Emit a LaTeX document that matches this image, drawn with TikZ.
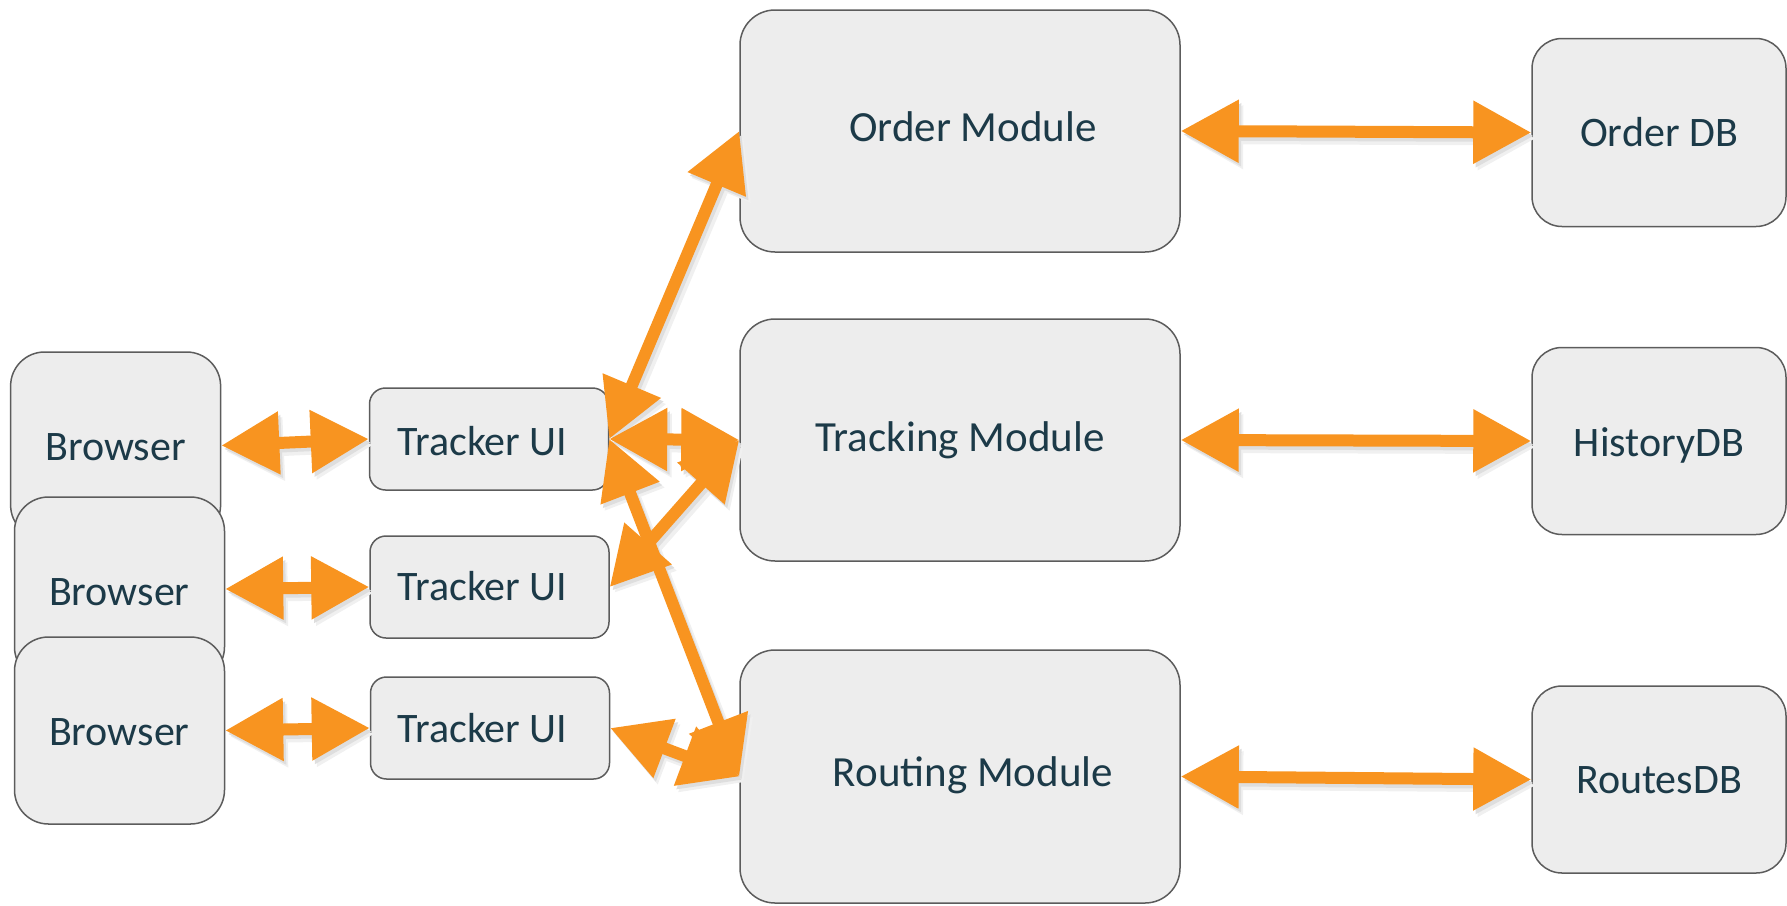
\documentclass[tikz,border=0pt]{standalone}
\usepackage{fontspec}
\setmainfont{Carlito}
\usetikzlibrary{arrows.meta}
\definecolor{boxfill}{RGB}{237,237,237}
\definecolor{boxline}{RGB}{92,92,92}
\definecolor{flow}{RGB}{248,148,32}
\definecolor{ink}{RGB}{28,58,72}
\begin{document}
\begin{tikzpicture}[x=1pt,y=-1pt,
  box/.style={draw=boxline, fill=boxfill, line width=1.5pt, inner sep=0pt},
  client/.style={box, rounded corners=34pt, minimum width=210pt, minimum height=187pt},
  ui/.style={box, rounded corners=16pt, minimum width=239pt, minimum height=102pt},
  module/.style={box, rounded corners=35pt, minimum width=440pt},
  store/.style={box, rounded corners=30pt, minimum width=254pt, minimum height=188pt},
  lbl/.style={anchor=base, inner sep=0pt, text=ink, font=\fontsize{42pt}{50pt}\selectfont},
  biglbl/.style={lbl, font=\fontsize{43pt}{50pt}\selectfont},
  tips/.style={{Triangle[length=58pt,width=60pt]}-{Triangle[length=58pt,width=60pt]}},
  link/.style={tips, draw=flow, line width=12pt},
  linkshadow/.style={tips, draw=black!13, line width=12pt,
    transform canvas={shift={(2.5pt,-3.5pt)}}},
  linkhaze/.style={tips, draw=black!6, line width=14pt,
    transform canvas={shift={(4.5pt,-6pt)}}},
]
\useasboundingbox (0,0) rectangle (1787,905);

% clients
\node[client] (b1) at (115.6,445.5) {};
\node[client, minimum height=184pt] (b2) at (119.5,589) {};
\node[client] (b3) at (119.5,730.5) {};
\node[lbl] at (115.6,460.7) {Browser};
\node[lbl] at (119.3,605.7) {Browser};
\node[lbl] at (119.3,745) {Browser};

% tracker front ends
\node[ui] (t1) at (489,439) {};
\node[ui] (t2) at (489.5,587) {};
\node[ui] (t3) at (490,728) {};
\node[lbl] at (482.5,455) {Tracker UI};
\node[lbl] at (482.5,600.7) {Tracker UI};
\node[lbl] at (482.5,742.7) {Tracker UI};

% back-end modules
\node[module, minimum height=242pt] (om) at (960,131) {};
\node[module, minimum height=242pt] (tm) at (960,440) {};
\node[module, minimum height=253pt] (rm) at (960,776.5) {};
\node[biglbl] at (973,141.7) {Order Module};
\node[biglbl] at (960,451.5) {Tracking Module};
\node[biglbl] at (973,786.7) {Routing Module};

% databases
\node[store] (odb) at (1659,132.5) {};
\node[store, minimum height=187pt] (hdb) at (1659,441) {};
\node[store, minimum height=187pt] (rdb) at (1659,779.5) {};
\node[lbl] at (1659,146.7) {Order DB};
\node[lbl] at (1659,456) {HistoryDB};
\node[lbl] at (1659,793.5) {RoutesDB};

% two-way links: soft shadows first, then the arrows
\foreach \s in {linkhaze, linkshadow, link} {
  \foreach \a/\b in {b1/t1, b2/t2, b3/t3, t1/om, t1/tm, t1/rm, t2/tm, t3/rm,
                     om/odb, tm/hdb, rm/rdb}
    \draw[\s] (\a.east) -- (\b.west);
}
\end{tikzpicture}
\end{document}
